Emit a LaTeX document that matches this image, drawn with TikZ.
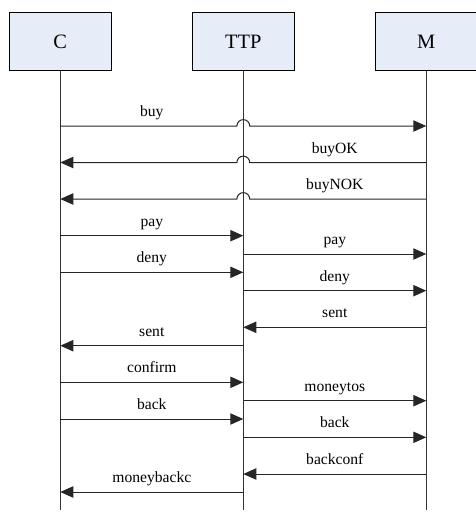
\documentclass[tikz,border=0pt]{standalone}
\usepackage{fontspec}
\setmainfont{Liberation Serif}
\usetikzlibrary{arrows.meta,calc}
\definecolor{boxfill}{RGB}{231,237,248}
\begin{document}
\begin{tikzpicture}[x=0.75pt,y=-0.75pt,
  actor/.style={draw=black,line width=1.1pt,fill=boxfill,minimum width=76.5pt,minimum height=43.8pt,inner sep=0pt,font=\fontsize{15.3}{18}\selectfont},
  life/.style={line width=0.75pt,draw=black!80},
  msg/.style={line width=0.75pt,draw=black!85,-{Triangle[length=9.75pt,width=8.5pt]}},
  lbl/.style={anchor=base,inner sep=0pt,font=\fontsize{11.7}{14}\selectfont}]
\useasboundingbox (0,0) rectangle (476,512);
\node[actor] (C) at (60.3,41.5) {C};
\node[actor] (T) at (243.3,41.5) {TTP};
\node[actor] (M) at (426.3,41.5) {M};
\coordinate (bot) at (0,510);
\draw[life] (C.south) -- (C |- bot);
\draw[life] (T.south) -- (T |- bot);
\draw[life] (M.south) -- (M |- bot);
% rows
\coordinate (r1) at (0,126);
\coordinate (r2) at (0,162.5);
\coordinate (r3) at (0,199);
\coordinate (r4) at (0,235.7);
\coordinate (r5) at (0,254);
\coordinate (r6) at (0,272.3);
\coordinate (r7) at (0,290.7);
\coordinate (r8) at (0,327.3);
\coordinate (r9) at (0,345.7);
\coordinate (r10) at (0,382.3);
\coordinate (r11) at (0,400.7);
\coordinate (r12) at (0,419);
\coordinate (r13) at (0,437.3);
\coordinate (r14) at (0,474);
\coordinate (r15) at (0,492);
% crossing messages
\draw[msg] (C |- r1) -- ($(T |- r1)+(-4.8pt,0)$) arc[start angle=180,end angle=0,radius=4.8pt] -- (M |- r1);
\draw[msg] (M |- r2) -- ($(T |- r2)+(4.8pt,0)$) arc[start angle=0,end angle=180,radius=4.8pt] -- (C |- r2);
\draw[msg] (M |- r3) -- ($(T |- r3)+(4.8pt,0)$) arc[start angle=0,end angle=180,radius=4.8pt] -- (C |- r3);
\node[lbl] (l1) at ($(C |- r1)!0.5!(T |- r1)+(0,-9.5)$) {buy};
\node[lbl] (l2) at ($(T |- r2)!0.5!(M |- r2)+(0,-9.5)$) {buyOK};
\node[lbl] (l3) at ($(T |- r3)!0.5!(M |- r3)+(0,-9.5)$) {buyNOK};
% C <-> TTP
\draw[msg] (C |- r4) -- (T |- r4);
\node[lbl] (l4) at ($(C |- r4)!0.5!(T |- r4)+(0,-9.5)$) {pay};
\draw[msg] (T |- r5) -- (M |- r5);
\node[lbl] (l5) at ($(T |- r5)!0.5!(M |- r5)+(0,-9.5)$) {pay};
\draw[msg] (C |- r6) -- (T |- r6);
\node[lbl] (l6) at ($(C |- r6)!0.5!(T |- r6)+(0,-9.5)$) {deny};
\draw[msg] (T |- r7) -- (M |- r7);
\node[lbl] (l7) at ($(T |- r7)!0.5!(M |- r7)+(0,-9.5)$) {deny};
\draw[msg] (M |- r8) -- (T |- r8);
\node[lbl] (l8) at ($(T |- r8)!0.5!(M |- r8)+(0,-9.5)$) {sent};
\draw[msg] (T |- r9) -- (C |- r9);
\node[lbl] (l9) at ($(C |- r9)!0.5!(T |- r9)+(0,-9.5)$) {sent};
\draw[msg] (C |- r10) -- (T |- r10);
\node[lbl] (l10) at ($(C |- r10)!0.5!(T |- r10)+(0,-9.5)$) {confirm};
\draw[msg] (T |- r11) -- (M |- r11);
\node[lbl] (l11) at ($(T |- r11)!0.5!(M |- r11)+(0,-9.5)$) {moneytos};
\draw[msg] (C |- r12) -- (T |- r12);
\node[lbl] (l12) at ($(C |- r12)!0.5!(T |- r12)+(0,-9.5)$) {back};
\draw[msg] (T |- r13) -- (M |- r13);
\node[lbl] (l13) at ($(T |- r13)!0.5!(M |- r13)+(0,-9.5)$) {back};
\draw[msg] (M |- r14) -- (T |- r14);
\node[lbl] (l14) at ($(T |- r14)!0.5!(M |- r14)+(0,-9.5)$) {backconf};
\draw[msg] (T |- r15) -- (C |- r15);
\node[lbl] (l15) at ($(C |- r15)!0.5!(T |- r15)+(0,-9.5)$) {moneybackc};
\end{tikzpicture}
\end{document}
